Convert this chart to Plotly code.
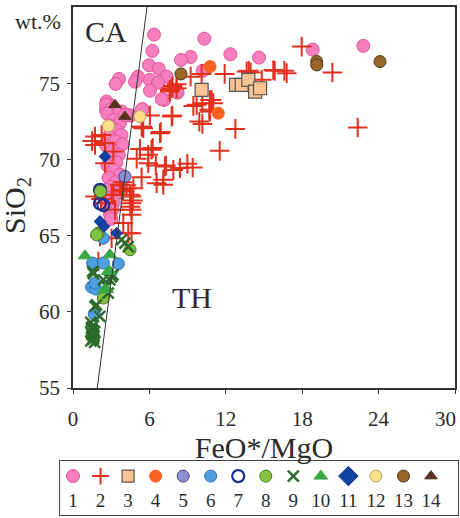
import plotly.graph_objects as go

# ---------------- data ----------------
s1_x = [6.36, 6.23, 10.31, 12.36, 14.61, 18.82, 22.8, 9.24, 8.48, 5.97, 6.73, 7.34, 10.18, 6.02, 6.70,
        6.05, 5.10, 4.87, 3.61, 3.35, 7.17, 6.97, 8.22, 8.14, 5.47, 4.50, 3.82, 5.42,
        2.64, 3.03, 2.59, 3.56, 4.43, 2.6, 3.0, 3.5, 2.7, 3.2, 3.7, 2.9, 3.4, 3.8, 2.8, 3.3, 3.9, 2.6,
        3.1, 3.6, 2.9, 3.4, 2.7, 3.2, 3.7, 2.8, 3.3, 3.0, 2.6, 3.5, 2.9, 3.2, 2.7, 3.1, 2.9, 3.0, 4.1]
s1_y = [78.19, 77.12, 77.92, 76.9, 76.68, 77.2, 77.45, 76.72, 76.53, 76.18, 75.94, 75.43, 75.81, 75.22, 75.04,
        74.51, 75.43, 75.10, 75.28, 74.95, 73.90, 73.95, 74.38, 74.45, 73.29, 72.88, 73.14, 73.29,
        73.8, 73.5, 73.25, 72.33, 72.9, 73.6, 73.3, 73.0, 73.0, 72.6, 72.4, 72.2, 71.9, 71.6, 71.5, 71.2, 71.0, 70.9,
        70.6, 70.3, 70.1, 69.8, 69.6, 69.3, 69.0, 68.8, 68.5, 68.2, 68.0, 67.8, 67.5, 67.2, 67.0, 66.7, 66.4, 66.1, 72.9]

s2_x = [17.96, 20.37, 22.36, 15.84, 16.6, 16.78, 13.8, 13.95, 14.82, 11.91, 10.1, 9.24, 7.82, 8.14, 7.6,
        10.16, 9.45, 10.76, 11.02, 10.7, 9.92, 10.16, 7.8, 6.04, 5.44, 6.89, 12.75, 11.52, 5.26, 6.26,
        5.0, 5.91, 6.5, 7.3, 7.88, 8.4, 8.98, 9.4, 7.09, 7.09, 5.39, 15.73, 13.64, 10.89, 10.76, 7.75,
        8.14, 7.6, 9.71, 7.75, 5.39, 1.73, 2.25, 1.73, 2.51, 3.17, 2.51, 6.83, 5.52, 6.17, 5.91,
        7.22, 4.74, 3.69, 3.95, 3.17, 4.6, 1.73, 2.51, 3.03, 3.3, 3.82, 4.48, 4.6, 4.6, 4.6, 4.5, 4.7,
        3.95, 4.34, 4.6, 2.12, 3.03, 1.99, 4.2, 3.9, 6.57, 1.5, 2.2]
s2_y = [77.4, 75.7, 72.09, 75.81, 75.81, 75.66, 75.81, 75.7, 75.22, 75.61, 75.61, 75.43, 74.82, 74.93, 74.56,
        73.69, 73.51, 73.9, 73.69, 73.25, 72.48, 72.33, 72.88, 72.88, 72.15, 71.79, 72.0, 70.56, 70.69, 70.74,
        70.04, 70.3, 69.6, 69.6, 69.31, 69.43, 69.71, 69.47, 68.66, 68.33, 68.83, 75.87, 75.76, 73.9, 73.14, 74.67,
        74.67, 74.45, 73.58, 72.81, 72.15, 71.5, 71.6, 70.95, 71.07, 70.52, 69.75, 71.72, 72.05, 70.63, 69.75,
        69.53, 68.11, 68.33, 67.89, 67.68, 67.56, 67.56, 67.13, 67.68, 66.69, 68.0, 67.68, 67.13, 66.69, 66.36, 66.9, 67.3,
        65.82, 65.16, 65.16, 64.94, 64.83, 63.3, 68.3, 68.5, 68.44, 71.2, 67.4]

s3_x = [10.1, 12.8, 13.25, 13.77, 14.3, 14.69]
s3_y = [74.56, 74.89, 74.89, 75.22, 74.45, 74.67]

s4_x = [10.76, 11.41]
s4_y = [76.09, 73.03]

s5_x = [4.08]
s5_y = [68.88]

s6_x = [1.54, 2.38, 3.56, 1.46, 1.78, 1.73, 1.67, 2.38]
s6_y = [63.2, 63.2, 63.15, 61.62, 61.49, 61.88, 59.85, 64.83]

s7_x = [2.12, 2.12, 2.38]
s7_y = [68.0, 67.1, 67.0]

s8_x = [1.99, 1.85, 4.48, 2.38, 2.15]
s8_y = [65.16, 65.05, 64.07, 60.9, 67.9]

s9_x = [1.54, 1.84, 2.1, 2.9, 2.64, 3.14, 4.08, 4.34, 3.82, 2.77, 1.6, 2.38, 3.03, 1.73,
        1.4, 1.6, 1.45, 1.7, 1.5, 1.6, 1.4, 1.7, 1.55, 1.5, 1.65, 1.45, 1.6]
s9_y = [62.65, 60.46, 59.7, 62.1, 61.67, 62.43, 64.5, 64.28, 64.73, 61.23, 62.5, 62.1, 62.3, 60.36,
        59.3, 59.1, 58.9, 58.7, 58.5, 58.3, 58.1, 58.0, 58.8, 59.0, 58.4, 58.6, 58.2]

s10_x = [0.94, 2.9, 2.9, 2.64, 2.77, 2.46]
s10_y = [63.67, 63.74, 62.65, 61.45, 62.65, 61.45]

s11_x = [2.51, 2.12, 2.43, 3.43]
s11_y = [70.19, 65.93, 65.6, 65.16]

s12_x = [2.78, 5.26]
s12_y = [72.2, 72.81]

s13_x = [8.48, 19.14, 19.14, 24.11]
s13_y = [75.61, 76.42, 76.2, 76.42]

s14_x = [3.3, 4.08]
s14_y = [73.58, 72.81]

legend_labels = ["1", "2", "3", "4", "5", "6", "7", "8", "9", "10", "11", "12", "13", "14"]

# discrimination line SiO2 = a * FeO*/MgO + b (Miyashiro 1974)
line_a = 6.4
line_b = 42.8

x_ticks = [0, 6, 12, 18, 24, 30]
y_ticks = [55, 60, 65, 70, 75]

# ---------------- styles ----------------
series = [
    (s1_x, s1_y, dict(symbol="circle", size=13, color="#f77fbd", line=dict(color="#e0559a", width=1))),
    (s2_x, s2_y, dict(symbol="cross-thin", size=14, color="#e3301e", line=dict(color="#e3301e", width=2))),
    (s3_x, s3_y, dict(symbol="square", size=13, color="#fbc293", line=dict(color="#555555", width=1.2))),
    (s4_x, s4_y, dict(symbol="circle", size=12, color="#f8621f", line=dict(color="#f8621f", width=1))),
    (s5_x, s5_y, dict(symbol="circle", size=12, color="#8e8fd0", line=dict(color="#44458a", width=1))),
    (s6_x, s6_y, dict(symbol="circle", size=12, color="#4f9ee2", line=dict(color="#2a6fb8", width=1))),
    (s7_x, s7_y, dict(symbol="circle-open", size=12, color="#1b2f91", line=dict(color="#1b2f91", width=2.2))),
    (s8_x, s8_y, dict(symbol="circle", size=12, color="#86c23f", line=dict(color="#3f7a25", width=1))),
    (s9_x, s9_y, dict(symbol="x-thin", size=11, color="#2d6b2d", line=dict(color="#2d6b2d", width=2.5))),
    (s10_x, s10_y, dict(symbol="triangle-up", size=12, color="#3aa845", line=dict(color="#3aa845", width=1))),
    (s11_x, s11_y, dict(symbol="diamond", size=9, color="#1142a6", line=dict(color="#0d2f80", width=1))),
    (s12_x, s12_y, dict(symbol="circle", size=12, color="#fbe08c", line=dict(color="#b8a060", width=1))),
    (s13_x, s13_y, dict(symbol="circle", size=12, color="#9a672a", line=dict(color="#4d3414", width=1))),
    (s14_x, s14_y, dict(symbol="triangle-up", size=11, color="#5a3222", line=dict(color="#5a3222", width=1))),
]

fig = go.Figure()

for i, (xs, ys, mk) in enumerate(series):
    fig.add_trace(go.Scatter(x=xs, y=ys, mode="markers", marker=mk, showlegend=False,
                             xaxis="x", yaxis="y", cliponaxis=True))

# legend (markers drawn in a small second axis system)
for i, (xs, ys, mk) in enumerate(series):
    lm = dict(mk)
    if lm["symbol"] == "cross-thin":
        lm["size"] = 12
    if lm["symbol"] == "diamond":
        lm["size"] = 15
    if lm["symbol"] == "square":
        lm["size"] = 12
    fig.add_trace(go.Scatter(x=[i + 1], y=[0.72], mode="markers", marker=lm, showlegend=False,
                             xaxis="x2", yaxis="y2", cliponaxis=False))
fig.add_trace(go.Scatter(x=list(range(1, len(legend_labels) + 1)), y=[0.24] * len(legend_labels),
                         mode="text", text=legend_labels, showlegend=False,
                         textfont=dict(family="Liberation Serif", size=19, color="#2b2b2b"),
                         xaxis="x2", yaxis="y2", cliponaxis=False))

# discrimination line
y0, y1 = 55, 80
fig.add_shape(type="line", xref="x", yref="y",
              x0=(y0 - line_b) / line_a, y0=y0, x1=(y1 - line_b) / line_a, y1=y1,
              line=dict(color="#333333", width=1))

W, H = 460, 518
ml, mr, mt, mb = 59, 2, 7, 3
pw, ph = W - ml - mr, H - mt - mb

def xd(px):
    return (px - ml) / pw

def yd(py):
    return (H - mb - py) / ph

font = "Liberation Serif"
txt = "#2b2b2b"

# last x tick label is drawn shifted left (as in the reference), others via the axis
x_ticktext = [str(v) for v in x_ticks[:-1]] + [""]

fig.update_layout(
    width=W, height=H,
    margin=dict(l=ml, r=mr, t=mt, b=mb, autoexpand=False),
    paper_bgcolor="white", plot_bgcolor="white",
    font=dict(family=font, color=txt),
    xaxis=dict(domain=[xd(73), xd(455)], range=[0, 30], tickvals=x_ticks, ticktext=x_ticktext,
               ticks="outside", ticklen=4, ticklabelstandoff=7, automargin=False,
               tickcolor="#333", showgrid=False, zeroline=False, showline=True, linecolor="#333",
               linewidth=1.5, mirror=True, tickfont=dict(size=21, family=font, color=txt),
               title=dict(text="FeO*/MgO", font=dict(size=30, family=font, color=txt), standoff=7),
               anchor="y"),
    yaxis=dict(domain=[yd(388), yd(7)], range=[55, 80], tickvals=y_ticks, ticks="outside", ticklen=4,
               ticklabelstandoff=3, automargin=False,
               tickcolor="#333", showgrid=False, zeroline=False, showline=True, linecolor="#333",
               linewidth=1.5, mirror=True, tickfont=dict(size=21, family=font, color=txt),
               anchor="x"),
    xaxis2=dict(domain=[xd(60), xd(458)], range=[0.528, 14.98], showticklabels=False, ticks="",
                showgrid=False, zeroline=False, showline=True, linecolor="#444", linewidth=1,
                mirror=True, anchor="y2", fixedrange=True, automargin=False),
    yaxis2=dict(domain=[yd(515), yd(461)], range=[0, 1], showticklabels=False, ticks="",
                showgrid=False, zeroline=False, showline=True, linecolor="#444", linewidth=1,
                mirror=True, anchor="x2", fixedrange=True, automargin=False),
    annotations=[
        dict(text=str(x_ticks[-1]), xref="paper", yref="paper", x=xd(445), y=yd(419),
             xanchor="center", yanchor="middle", showarrow=False,
             font=dict(size=21, family=font, color=txt)),
        dict(text="SiO<sub>2</sub>", xref="paper", yref="paper", x=xd(17), y=yd(206),
             xanchor="center", yanchor="middle", showarrow=False, textangle=-90,
             font=dict(size=30, family=font, color=txt)),
        dict(text="wt.%", xref="paper", yref="paper", x=xd(38), y=yd(22),
             xanchor="center", yanchor="middle", showarrow=False,
             font=dict(size=22, family=font, color=txt)),
        dict(text="CA", xref="paper", yref="paper", x=xd(106), y=yd(31),
             xanchor="center", yanchor="middle", showarrow=False,
             font=dict(size=30, family=font, color=txt)),
        dict(text="TH", xref="paper", yref="paper", x=xd(192), y=yd(297),
             xanchor="center", yanchor="middle", showarrow=False,
             font=dict(size=30, family=font, color=txt)),
    ],
)

fig.write_html("out.html")
